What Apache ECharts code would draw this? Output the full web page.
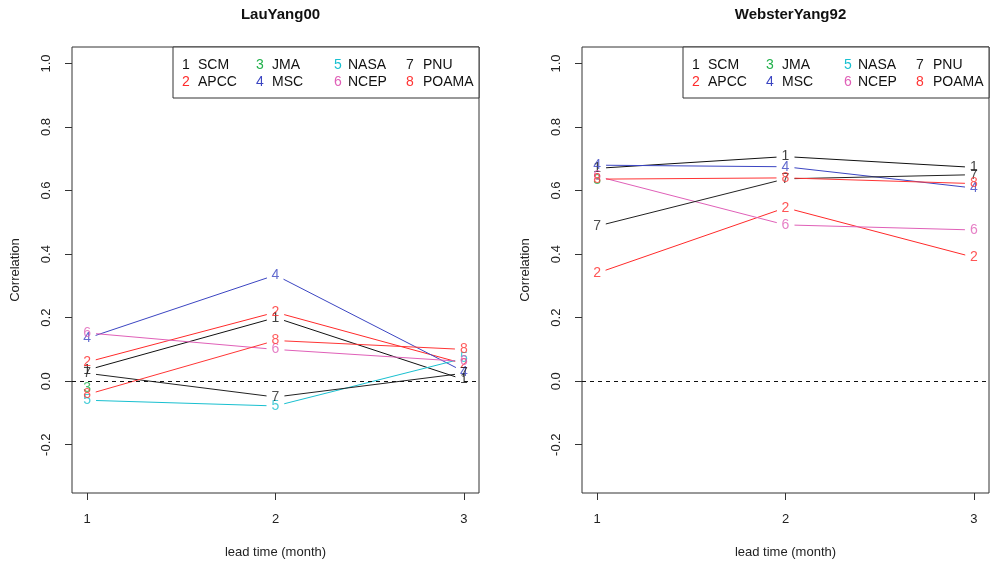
<!DOCTYPE html>
<html>
<head>
<meta charset="utf-8">
<script src="https://cdn.jsdelivr.net/npm/echarts@6/dist/echarts.min.js"></script>
<style>
  html, body { margin: 0; padding: 0; background: #fff; }
  #chart { width: 990px; height: 564px; }
</style>
</head>
<body>
<div id="chart"></div>
<script>
// Lead times (months) on the x axis
const leadTimes = [1, 2, 3];
// Models, their plotting symbols and colours
const models = ['SCM', 'APCC', 'JMA', 'MSC', 'NASA', 'NCEP', 'PNU', 'POAMA'];
const symbols = ['1', '2', '3', '4', '5', '6', '7', '8'];
const colors = ['#111111', '#ff2a2a', '#1fb04a', '#3b45c2', '#19c0d0', '#e060b8', '#222222', '#ff3535'];
// Panel titles
const panelTitles = ['LauYang00', 'WebsterYang92'];
// Axis ticks
const yTicks = [-0.2, 0.0, 0.2, 0.4, 0.6, 0.8, 1.0];
const xTicks = [1, 2, 3];

// Correlation skill, LauYang00 index (one array per model, by lead time)
const lauSCM   = [0.035, 0.200, 0.005];
const lauAPCC  = [0.060, 0.217, 0.055];
const lauJMA   = [-0.022, null, null];
const lauMSC   = [0.135, 0.334, 0.030];
const lauNASA  = [-0.060, -0.078, 0.072];
const lauNCEP  = [0.152, 0.100, 0.062];
const lauPNU   = [0.025, -0.050, 0.025];
const lauPOAMA = [-0.042, 0.128, 0.100];

// Correlation skill, WebsterYang92 index
const webSCM   = [0.670, 0.707, 0.673];
const webAPCC  = [0.340, 0.546, 0.390];
const webJMA   = [0.632, null, null];
const webMSC   = [0.680, 0.675, 0.608];
const webNASA  = [null, null, null];
const webNCEP  = [0.645, 0.492, 0.476];
const webPNU   = [0.488, 0.637, 0.650];
const webPOAMA = [0.636, 0.640, 0.622];

const panels = [
  [lauSCM, lauAPCC, lauJMA, lauMSC, lauNASA, lauNCEP, lauPNU, lauPOAMA],
  [webSCM, webAPCC, webJMA, webMSC, webNASA, webNCEP, webPNU, webPOAMA]
];

const FONT = "'Liberation Sans', Arial, Helvetica, sans-serif";
const gridLefts = [72, 582];
const gridTop = 47, gridW = 407, gridH = 446;

// Segment between two points, shortened at both ends so the numbers stand free
function renderSegment(params, api) {
  const a = api.coord([api.value(0), api.value(1)]);
  const b = api.coord([api.value(2), api.value(3)]);
  const dx = b[0] - a[0], dy = b[1] - a[1];
  const len = Math.hypot(dx, dy);
  const gap = 9;
  if (len <= 2 * gap) return null;
  const ux = dx / len, uy = dy / len;
  return {
    type: 'line',
    shape: { x1: a[0] + ux * gap, y1: a[1] + uy * gap, x2: b[0] - ux * gap, y2: b[1] - uy * gap },
    style: { stroke: api.visual('color'), lineWidth: 1 }
  };
}

const grids = [], xAxes = [], yAxes = [], series = [], titles = [], graphics = [];

panels.forEach((panel, p) => {
  grids.push({
    left: gridLefts[p], top: gridTop, width: gridW, height: gridH,
    outerBoundsMode: 'none', containLabel: false,
    show: true, borderColor: '#333', borderWidth: 1, backgroundColor: 'transparent'
  });
  xAxes.push({
    type: 'value', gridIndex: p, min: 0.92, max: 3.08,
    name: 'lead time (month)', nameLocation: 'middle', nameGap: 53, nameMoveOverlap: false,
    nameTextStyle: { fontFamily: FONT, fontSize: 13, color: '#222' },
    axisLine: { show: false, onZero: false },
    splitLine: { show: false },
    axisTick: { show: true, inside: false, length: 7, customValues: xTicks, lineStyle: { color: '#333' } },
    axisLabel: { customValues: xTicks, margin: 20, fontFamily: FONT, fontSize: 13, color: '#222', formatter: v => String(v) }
  });
  yAxes.push({
    type: 'value', gridIndex: p, min: -0.352, max: 1.052,
    name: 'Correlation', nameLocation: 'middle', nameGap: 50, nameRotate: 90, nameMoveOverlap: false,
    nameTextStyle: { fontFamily: FONT, fontSize: 13, color: '#222' },
    axisLine: { show: false, onZero: false },
    splitLine: { show: false },
    axisTick: { show: true, inside: false, length: 7, customValues: yTicks, lineStyle: { color: '#333' } },
    axisLabel: { customValues: yTicks, rotate: 90, margin: 19, fontFamily: FONT, fontSize: 13, color: '#222',
                 formatter: v => v.toFixed(1) }
  });

  // Dashed zero reference line
  series.push({
    type: 'line', xAxisIndex: p, yAxisIndex: p, data: [], silent: true,
    markLine: {
      silent: true, symbol: 'none', label: { show: false },
      lineStyle: { type: [4, 4], color: '#111', width: 1 },
      data: [{ yAxis: 0 }]
    }
  });

  panel.forEach((vals, m) => {
    const pts = [];
    vals.forEach((v, i) => { if (v !== null) pts.push([leadTimes[i], v]); });
    const segs = [];
    for (let i = 0; i < vals.length - 1; i++) {
      if (vals[i] !== null && vals[i + 1] !== null) {
        segs.push([leadTimes[i], vals[i], leadTimes[i + 1], vals[i + 1]]);
      }
    }
    series.push({
      type: 'custom', name: models[m], xAxisIndex: p, yAxisIndex: p,
      renderItem: renderSegment, data: segs, silent: true,
      encode: { x: [0, 2], y: [1, 3] },
      itemStyle: { color: colors[m] }
    });
    series.push({
      type: 'scatter', name: models[m], xAxisIndex: p, yAxisIndex: p,
      data: pts, symbol: 'circle', symbolSize: 1, silent: true,
      itemStyle: { color: 'rgba(0,0,0,0)' },
      label: {
        show: true, position: 'inside', formatter: symbols[m],
        fontFamily: FONT, fontSize: 14, color: colors[m]
      },
      labelLayout: { hideOverlap: false }
    });
  });

  titles.push({
    text: panelTitles[p],
    left: gridLefts[p] + gridW / 2, top: 2, textAlign: 'center',
    textStyle: { fontFamily: FONT, fontSize: 15, fontWeight: 'bold', color: '#111' }
  });

  // Key: two rows, four columns, numbered symbol then model name
  const boxX = gridLefts[p] + 101;
  const children = [{
    type: 'rect', shape: { x: boxX, y: gridTop, width: 306, height: 51 },
    style: { fill: '#fff', stroke: '#333', lineWidth: 1 }
  }];
  const colNum = [13, 87, 165, 237];
  const colName = [25, 99, 175, 250];
  const rowY = [65, 82];
  models.forEach((name, m) => {
    const col = Math.floor(m / 2), row = m % 2;
    children.push({
      type: 'text', x: boxX + colNum[col], y: rowY[row],
      style: { text: symbols[m], fill: colors[m], font: `14px ${FONT}`, align: 'center', verticalAlign: 'middle' }
    });
    children.push({
      type: 'text', x: boxX + colName[col], y: rowY[row],
      style: { text: name, fill: '#111', font: `14px ${FONT}`, align: 'left', verticalAlign: 'middle' }
    });
  });
  graphics.push({ type: 'group', z: 100, children });
});

const chart = echarts.init(document.getElementById('chart'), null, { renderer: 'canvas' });
chart.setOption({
  animation: false,
  backgroundColor: '#ffffff',
  title: titles,
  grid: grids,
  xAxis: xAxes,
  yAxis: yAxes,
  series: series,
  graphic: graphics
});
</script>
</body>
</html>
